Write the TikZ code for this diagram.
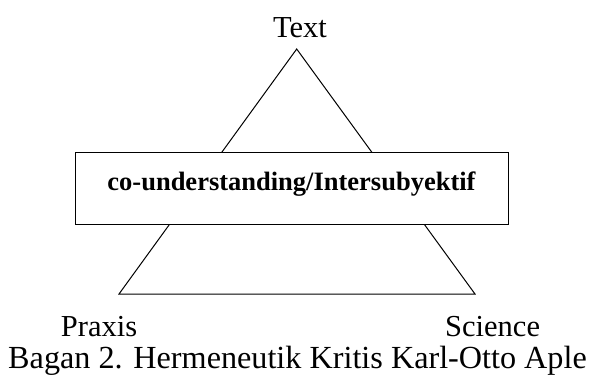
\documentclass[tikz,border=0pt]{standalone}
\usepackage{fontspec}
\setmainfont{Liberation Serif}
\usetikzlibrary{positioning}

\begin{document}
\begin{tikzpicture}[
  x=1pt, y=-1pt,
  lbl/.style={font=\fontsize{30.5}{36}\selectfont, inner sep=0pt, anchor=base},
  band/.style={draw, line width=1pt, fill=white, minimum width=433pt, minimum height=72pt, inner sep=0pt,
    text height=18pt, text depth=14pt, font=\bfseries\fontsize{26.5}{32}\selectfont},
  tri/.style={line width=1pt, line join=miter}
]
\useasboundingbox (0,0) rectangle (595,376);
\coordinate (apexT) at (296.7,49);
\coordinate (cornerL) at (119,294);
\coordinate (cornerR) at (475,294);
\draw[tri] (apexT) -- (cornerL) -- (cornerR) -- cycle;
\node[band] (mid) at (291.5,188) {co-understanding/Intersubyektif};
\node[lbl] (txt) at (300,37) {Text};
\node[lbl, anchor=base west] (praxis) at (60.7,336) {Praxis};
\node[lbl, anchor=base west] (sci) at (445,336) {Science};
\node[lbl, anchor=base east, font=\fontsize{32.2}{38}\selectfont] (cap) at (587,368) {Bagan 2. Hermeneutik Kritis Karl-Otto Aple};
\end{tikzpicture}
\end{document}
